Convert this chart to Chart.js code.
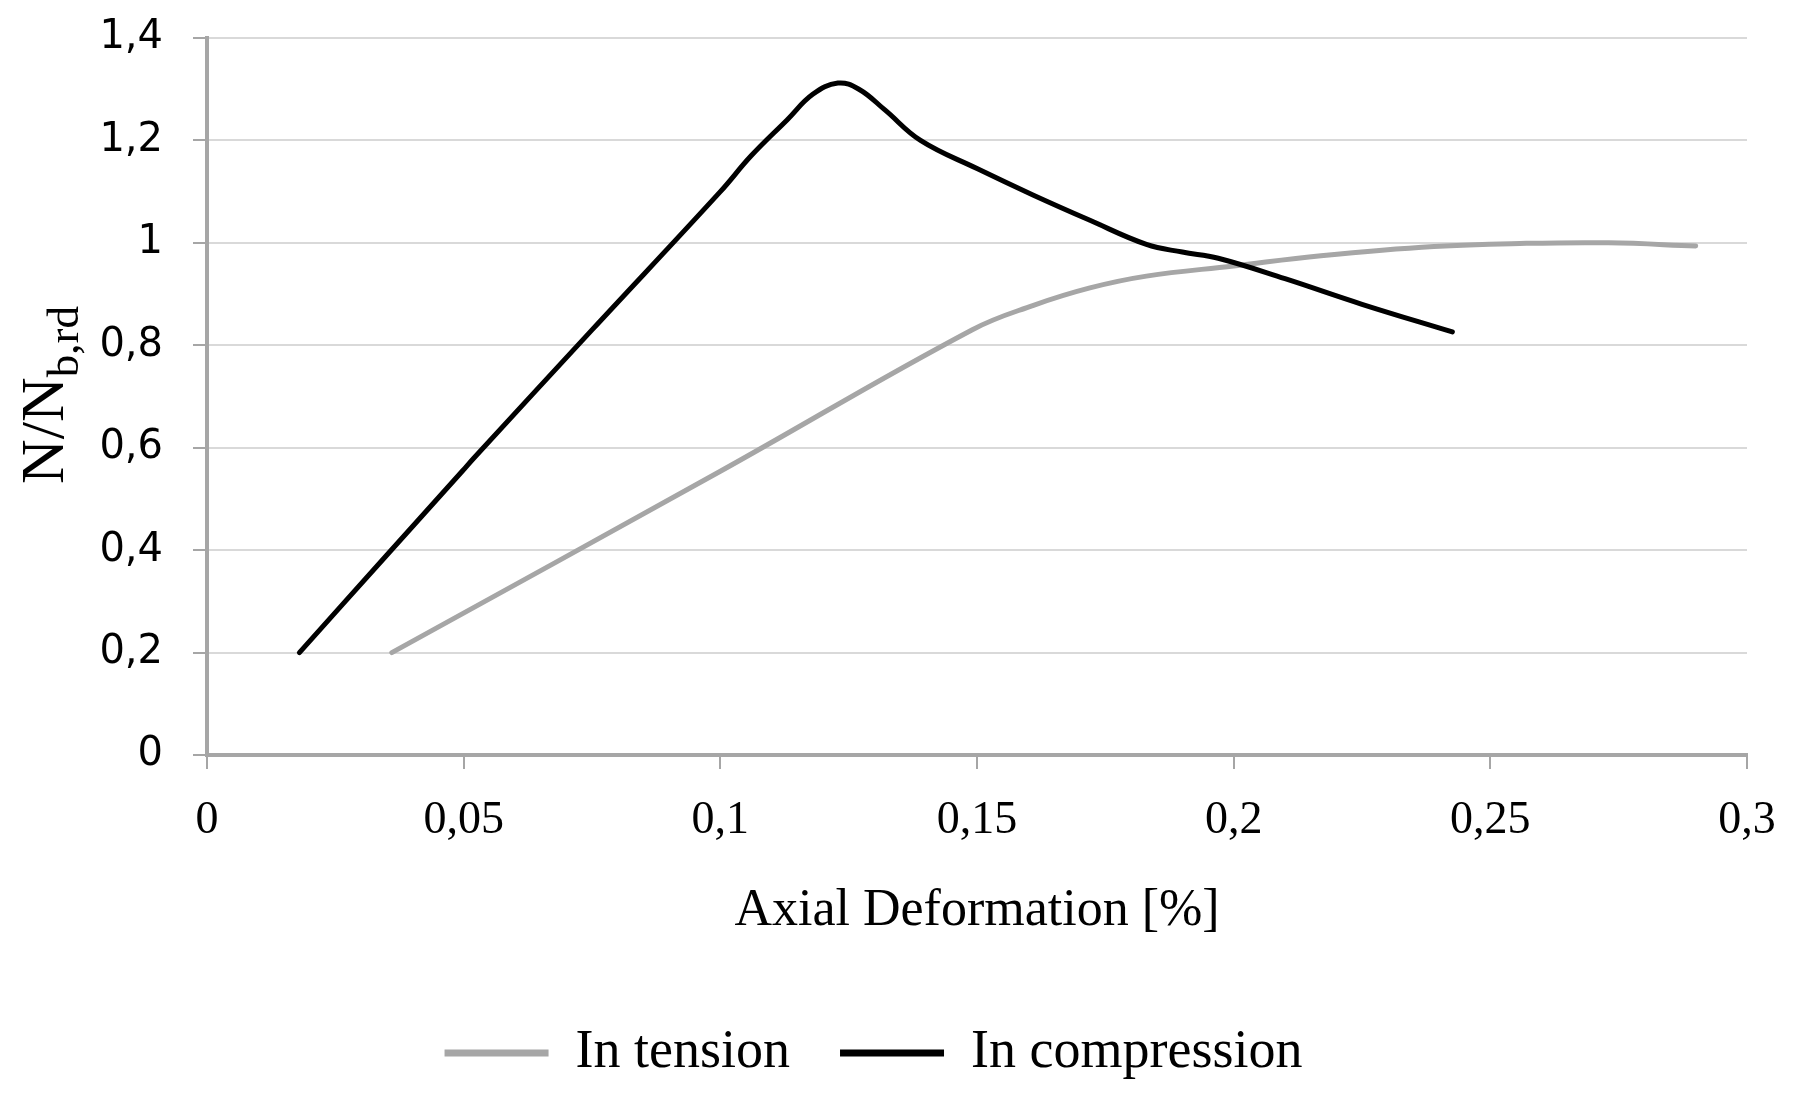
<!DOCTYPE html>
<html><head><meta charset="utf-8">
<script src="https://cdn.jsdelivr.net/npm/chart.js@4.4.1/dist/chart.umd.min.js"></script>
<style>html,body{margin:0;padding:0;background:#fff}#wrap{width:1800px;height:1110px}</style>
</head><body><div id="wrap"><canvas id="c" width="1800" height="1110"></canvas></div>
<script>
const tensionX = [0.036, 0.100, 0.149, 0.161, 0.172, 0.183, 0.200, 0.217, 0.239, 0.257, 0.273, 0.290];
const tensionY = [0.200, 0.554, 0.830, 0.878, 0.912, 0.935, 0.955, 0.975, 0.993, 0.999, 1.000, 0.994];
const compressionX = [0.018, 0.035, 0.0498, 0.052, 0.075, 0.100, 0.106, 0.113, 0.118, 0.1229, 0.127, 0.132, 0.139, 0.150, 0.161, 0.172, 0.183, 0.190, 0.197, 0.210, 0.225, 0.2426];
const compressionY = [0.200, 0.390, 0.555, 0.580, 0.830, 1.100, 1.170, 1.240, 1.290, 1.312, 1.300, 1.260, 1.200, 1.145, 1.093, 1.044, 0.997, 0.982, 0.970, 0.930, 0.880, 0.826];
const seriesNames = ['In tension', 'In compression'];
const xTitle = 'Axial Deformation [%]';
const yTitleMain = 'N/N';
const yTitleSub = 'b,rd';

function pts(xs, ys) { return xs.map((x, i) => ({ x: x, y: ys[i] })); }
function comma(v) { return String(Math.round(v * 100) / 100).replace('.', ','); }

const yTitlePlugin = {
  id: 'yTitle',
  afterDraw(chart) {
    const ctx = chart.ctx;
    ctx.save();
    ctx.translate(63, 395);
    ctx.rotate(-Math.PI / 2);
    ctx.fillStyle = '#000';
    ctx.textBaseline = 'alphabetic';
    ctx.font = '62px "Liberation Serif"';
    const w1 = ctx.measureText(yTitleMain).width;
    ctx.font = '45px "Liberation Serif"';
    const w2 = ctx.measureText(yTitleSub).width;
    const x0 = -(w1 + w2) / 2;
    ctx.font = '62px "Liberation Serif"';
    ctx.fillText(yTitleMain, x0, 0);
    ctx.font = '45px "Liberation Serif"';
    ctx.fillText(yTitleSub, x0 + w1, 15);
    ctx.restore();
  }
};

new Chart(document.getElementById('c'), {
  type: 'line',
  data: {
    datasets: [
      { label: seriesNames[0], data: pts(tensionX, tensionY), borderColor: '#a6a6a6', backgroundColor: '#a6a6a6', order: 1 },
      { label: seriesNames[1], data: pts(compressionX, compressionY), borderColor: '#000000', backgroundColor: '#000000', order: 0 }
    ]
  },
  options: {
    responsive: false,
    devicePixelRatio: 1,
    animation: false,
    datasets: { line: { pointRadius: 0, borderWidth: 5, tension: 0.4, fill: false, borderCapStyle: 'round' } },
    layout: { padding: { top: 38, right: 53, bottom: 20, left: 0 } },
    plugins: {
      tooltip: { enabled: false },
      legend: {
        position: 'bottom',
        labels: {
          font: { family: 'Liberation Serif', size: 54 },
          color: '#000',
          boxWidth: 104,
          boxHeight: 7,
          padding: 50,
          sort: (a, b) => a.datasetIndex - b.datasetIndex,
          generateLabels: (chart) => Chart.defaults.plugins.legend.labels.generateLabels(chart).map(l => Object.assign(l, { lineWidth: 0 }))
        }
      }
    },
    scales: {
      x: {
        type: 'linear', min: 0, max: 0.3,
        ticks: { stepSize: 0.05, callback: v => comma(v), font: { family: 'Liberation Serif', size: 46 }, color: '#000', padding: 24, maxRotation: 0 },
        grid: { drawOnChartArea: false, tickLength: 14, tickColor: '#a6a6a6', lineWidth: 2 },
        border: { color: '#a6a6a6', width: 4 },
        title: { display: true, text: xTitle, font: { family: 'Liberation Serif', size: 52 }, color: '#000', padding: { top: 20, bottom: 33 } },
        afterFit: s => { s.height = 221; }
      },
      y: {
        min: 0, max: 1.4,
        ticks: { stepSize: 0.2, callback: v => comma(v), font: { family: 'DejaVu Sans', size: 40 }, color: '#000', padding: 30 },
        grid: { color: '#d9d9d9', lineWidth: 2, tickLength: 14, tickColor: '#a6a6a6' },
        border: { color: '#a6a6a6', width: 4 },
        afterFit: s => { s.width = 207; s.paddingTop = 0; s.paddingBottom = 0; }
      }
    }
  },
  plugins: [yTitlePlugin]
});
</script></body></html>
